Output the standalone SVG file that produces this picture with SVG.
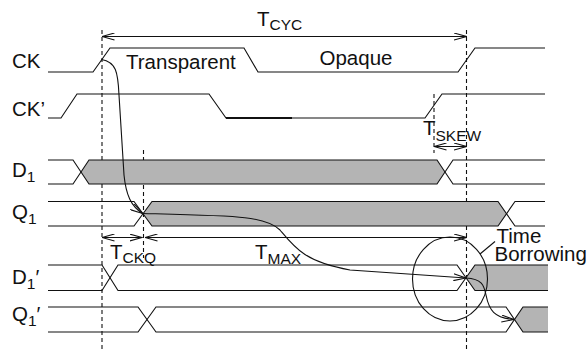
<svg xmlns="http://www.w3.org/2000/svg" width="588" height="349" viewBox="0 0 588 349">
<style>
.w{fill:none;stroke:#111;stroke-width:1.1;stroke-linejoin:miter}
.g{fill:#b4b4b4;stroke:none}
.d{fill:none;stroke:#111;stroke-width:1.1;stroke-dasharray:4,3}
.a{fill:none;stroke:#111;stroke-width:1.1}
text{font-family:"Liberation Sans",Arial,"DejaVu Sans",sans-serif;font-size:20.5px;fill:#111}
.s{font-size:15.5px}
</style>
<defs>
<marker id="ah" viewBox="0 0 13 8" refX="12.5" refY="4" markerWidth="13" markerHeight="8" markerUnits="userSpaceOnUse" orient="auto-start-reverse">
<path d="M0,0.5 L12.5,4 L0,7.5" fill="none" stroke="#111" stroke-width="1.1"/>
</marker>
</defs>
<rect width="588" height="349" fill="#fff"/>

<g id="guides">
<line class="d" x1="102" y1="30" x2="102" y2="349"/>
<line class="d" x1="143.5" y1="150" x2="143.5" y2="258"/>
<line class="d" x1="466.5" y1="30" x2="466.5" y2="349"/>
<line class="d" x1="434" y1="94" x2="434" y2="153"/>
</g>

<g id="ck">
<text x="12" y="67.5">CK</text>
<path class="w" d="M48,72 L93,72 L110,48 L244,48 L258,72 L458,72 L475,48 L545,48"/>
<text x="126" y="69">Transparent</text>
<text x="319.5" y="65">Opaque</text>
</g>

<g id="ckp">
<text x="12" y="116">CK’</text>
<path class="w" d="M48,118 L61,118 L77,94 L209,94 L226,118 L425,118 L442,94 L545,94"/>
<line x1="226" y1="118" x2="292" y2="118" stroke="#111" stroke-width="2.2"/>
</g>

<g id="d1">
<text x="12" y="177">D<tspan class="s" dy="5">1</tspan></text>
<polygon class="g" points="81,172 89,160 437,160 445,172 437,184 89,184"/>
<path class="w" d="M48,160 L73,160 L89,184 L437,184 L453,160 L545,160"/>
<path class="w" d="M48,184 L73,184 L89,160 L437,160 L453,184 L545,184"/>
</g>

<g id="q1">
<text x="12" y="218.5">Q<tspan class="s" dy="5">1</tspan></text>
<polygon class="g" points="143,213.75 152,201.5 498,201.5 506.5,213.75 498,226 152,226"/>
<path class="w" d="M48,201.5 L134,201.5 L152,226 L498,226 L515,201.5 L545,201.5"/>
<path class="w" d="M48,226 L134,226 L152,201.5 L498,201.5 L515,226 L545,226"/>
</g>

<g id="d1p">
<text x="12" y="284">D<tspan class="s" dy="5">1</tspan><tspan dy="-5">′</tspan></text>
<polygon class="g" points="466,277.75 475,265 548,265 548,290.5 475,290.5"/>
<path class="w" d="M48,265 L102,265 L118,290.5 L457,290.5 L475,265 L548,265"/>
<path class="w" d="M48,290.5 L102,290.5 L118,265 L457,265 L475,290.5 L548,290.5"/>
</g>

<g id="q1p">
<text x="12" y="321">Q<tspan class="s" dy="5">1</tspan><tspan dy="-5">′</tspan></text>
<polygon class="g" points="514.5,319.5 523,307 548,307 548,332 523,332"/>
<path class="w" d="M48,307 L138,307 L156,332 L506,332 L523,307 L548,307"/>
<path class="w" d="M48,332 L138,332 L156,307 L506,307 L523,332 L548,332"/>
</g>

<g id="connectors">
<line class="a" x1="102" y1="36.5" x2="466.5" y2="36.5" marker-start="url(#ah)" marker-end="url(#ah)"/>
<line class="a" x1="434" y1="146.5" x2="466.5" y2="146.5" marker-start="url(#ah)" marker-end="url(#ah)"/>
<line class="a" x1="102" y1="237.5" x2="142" y2="237.5" marker-start="url(#ah)" marker-end="url(#ah)"/>
<line class="a" x1="145" y1="237.5" x2="466.5" y2="237.5" marker-start="url(#ah)" marker-end="url(#ah)"/>
<path class="a" d="M101.5,59.5 C116,62 118,72 119,95 L124,175 C126,195 131,206 142.5,213.5" marker-end="url(#ah)"/>
<path class="a" d="M143,213.5 C240,216 265,216 280,230 C295,248 305,262 350,270 L466,278" marker-end="url(#ah)"/>
<path class="a" d="M466,278 C482,279 484,285 486,295 C489,310 494,318 514,319.5" marker-end="url(#ah)"/>
<ellipse class="a" cx="450" cy="279" rx="37.5" ry="42"/>
<line class="a" x1="480" y1="254" x2="495" y2="241.5"/>
</g>

<g id="labels">
<text x="257" y="25.5">T<tspan class="s" dy="4">CYC</tspan></text>
<text x="423" y="135">T<tspan class="s" dy="6">SKEW</tspan></text>
<text x="110" y="258.5">T<tspan class="s" dy="4.5">CKQ</tspan></text>
<text x="255" y="258.5">T<tspan class="s" dy="5">MAX</tspan></text>
<text x="496.5" y="242.5">Time</text>
<text x="494.5" y="261">Borrowing</text>
</g>
</svg>
